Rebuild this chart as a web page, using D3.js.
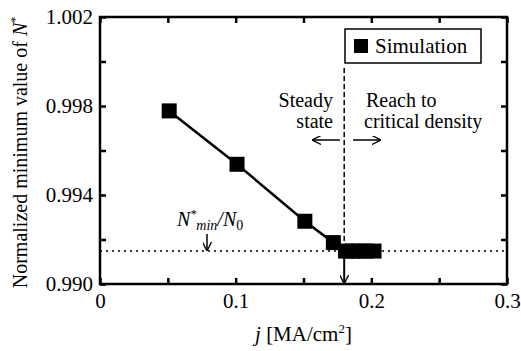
<!DOCTYPE html>
<head>
    <script src="https://d3js.org/d3.v7.min.js"></script>
</head>

<body style="margin:0;background:#fff">
<script>
    // values
    let jValues = [0.051, 0.101, 0.151, 0.172, 0.181, 0.186, 0.191, 0.196, 0.202];
    let nMin = [0.99778, 0.99538, 0.99282, 0.99186, 0.99148, 0.99148, 0.99148, 0.99148, 0.99148];
    let criticalN = 0.99148;   // N*min / N0
    let criticalJ = 0.18;
    let xTicks = [0, 0.1, 0.2, 0.3];
    let yTicks = [0.990, 0.994, 0.998, 1.002];

    let width = 521, height = 351;
    let margin = { left: 100, right: 14, top: 17, bottom: 67 };
    let serifFont = "Liberation Serif";

    let svg = d3.select("body")
        .append("svg")
        .attr("width", width)
        .attr("height", height)
        .attr("font-family", serifFont);

    let x = d3.scaleLinear().domain([0, 0.3]).range([margin.left, width - margin.right]);
    let y = d3.scaleLinear().domain([0.990, 1.002]).range([height - margin.bottom, margin.top]);

    svg.append("defs").append("marker")
        .attr("id", "head")
        .attr("viewBox", "0 0 10 10")
        .attr("refX", 9).attr("refY", 5)
        .attr("markerWidth", 9).attr("markerHeight", 9)
        .attr("markerUnits", "userSpaceOnUse")
        .attr("orient", "auto")
        .append("path")
        .attr("d", "M0,0 L10,5 L0,10")
        .attr("fill", "none")
        .attr("stroke", "#000")
        .attr("stroke-width", 1.5);

    // inward ticks on all four sides
    let minorX = d3.range(0, 0.3001, 0.05);
    let minorY = d3.range(0.990, 1.0021, 0.002);

    function bare(g) {
        g.attr("font-family", serifFont).attr("font-size", null);
        g.select(".domain").remove();
    }

    svg.append("g")
        .attr("transform", `translate(0,${y(0.990)})`)
        .call(d3.axisBottom(x).tickValues(minorX).tickSize(-6).tickFormat(""))
        .call(bare);
    svg.append("g")
        .attr("transform", `translate(0,${y(1.002)})`)
        .call(d3.axisTop(x).tickValues(minorX).tickSize(-6).tickFormat(""))
        .call(bare);
    svg.append("g")
        .attr("transform", `translate(${x(0)},0)`)
        .call(d3.axisLeft(y).tickValues(minorY).tickSize(-6).tickFormat(""))
        .call(bare);
    svg.append("g")
        .attr("transform", `translate(${x(0.3)},0)`)
        .call(d3.axisRight(y).tickValues(minorY).tickSize(-6).tickFormat(""))
        .call(bare);
    svg.selectAll(".tick line").attr("stroke", "#000").attr("stroke-width", 2.5);

    // tick labels
    svg.append("g")
        .attr("transform", `translate(0,${y(0.990)})`)
        .call(d3.axisBottom(x).tickValues(xTicks).tickSize(0).tickPadding(9).tickFormat(d => d === 0 ? "0" : d3.format(".1f")(d)))
        .call(bare)
        .selectAll("text").attr("font-size", 21);
    svg.append("g")
        .attr("transform", `translate(${x(0)},0)`)
        .call(d3.axisLeft(y).tickValues(yTicks).tickSize(0).tickPadding(7).tickFormat(d3.format(".3f")))
        .call(bare)
        .selectAll("text").attr("font-size", 21);

    svg.append("rect")
        .attr("x", x(0)).attr("y", y(1.002))
        .attr("width", x(0.3) - x(0)).attr("height", y(0.990) - y(1.002))
        .attr("fill", "none").attr("stroke", "#000").attr("stroke-width", 2.5);

    // dotted level and dashed boundary
    svg.append("line")
        .attr("x1", x(0)).attr("x2", x(0.3))
        .attr("y1", y(criticalN)).attr("y2", y(criticalN))
        .attr("stroke", "#000").attr("stroke-width", 1.5)
        .attr("stroke-dasharray", "2,4");
    svg.append("line")
        .attr("x1", x(criticalJ)).attr("x2", x(criticalJ))
        .attr("y1", 68).attr("y2", y(criticalN))
        .attr("stroke", "#000").attr("stroke-width", 1.5)
        .attr("stroke-dasharray", "5,3");

    // data
    let line = d3.line().x((d, i) => x(jValues[i])).y(d => y(d));
    svg.append("path")
        .datum(nMin)
        .attr("d", line)
        .attr("fill", "none")
        .attr("stroke", "#000")
        .attr("stroke-width", 2.5);
    svg.selectAll(".pt")
        .data(nMin)
        .enter()
        .append("rect")
        .attr("class", "pt")
        .attr("x", (d, i) => x(jValues[i]) - 7.5)
        .attr("y", d => y(d) - 7.5)
        .attr("width", 15).attr("height", 15)
        .attr("fill", "#000");

    // arrow down to the axis
    svg.append("line")
        .attr("x1", x(criticalJ)).attr("x2", x(criticalJ))
        .attr("y1", y(criticalN)).attr("y2", y(0.990) - 1)
        .attr("stroke", "#000").attr("stroke-width", 2)
        .attr("marker-end", "url(#head)");

    // legend
    svg.append("rect")
        .attr("x", 345).attr("y", 29).attr("width", 136).attr("height", 34)
        .attr("fill", "#fff").attr("stroke", "#000").attr("stroke-width", 1.5);
    svg.append("rect")
        .attr("x", 354).attr("y", 39).attr("width", 14).attr("height", 14)
        .attr("fill", "#000");
    svg.append("text")
        .attr("x", 375).attr("y", 53)
        .attr("font-size", 21)
        .text("Simulation");

    // annotations
    svg.append("text").attr("x", 333).attr("y", 107).attr("text-anchor", "end")
        .attr("font-size", 20).text("Steady");
    svg.append("text").attr("x", 333).attr("y", 128).attr("text-anchor", "end")
        .attr("font-size", 20).text("state");
    svg.append("text").attr("x", 366).attr("y", 107)
        .attr("font-size", 20).text("Reach to");
    svg.append("text").attr("x", 364).attr("y", 128)
        .attr("font-size", 20).text("critical density");

    svg.append("line")
        .attr("x1", 340).attr("x2", 313).attr("y1", 140).attr("y2", 140)
        .attr("stroke", "#000").attr("stroke-width", 1.5)
        .attr("marker-end", "url(#head)");
    svg.append("line")
        .attr("x1", 353).attr("x2", 380).attr("y1", 140).attr("y2", 140)
        .attr("stroke", "#000").attr("stroke-width", 1.5)
        .attr("marker-end", "url(#head)");

    let nt = svg.append("text").attr("x", 177).attr("y", 226)
        .attr("font-size", 20).attr("font-style", "italic");
    nt.append("tspan").text("N");
    nt.append("tspan").attr("dy", -8).attr("font-size", 12).text("*");
    nt.append("tspan").attr("dy", 12).attr("font-size", 14).text("min");
    nt.append("tspan").attr("dy", -4).text("/N");
    nt.append("tspan").attr("dy", 4).attr("font-size", 14).attr("font-style", "normal").text("0");
    svg.append("line")
        .attr("x1", 207).attr("x2", 207).attr("y1", 234).attr("y2", y(criticalN) - 1)
        .attr("stroke", "#000").attr("stroke-width", 1.5)
        .attr("marker-end", "url(#head)");

    // axis titles
    let xl = svg.append("text")
        .attr("x", x(0.15)).attr("y", 341).attr("text-anchor", "middle")
        .attr("font-size", 21);
    xl.append("tspan").attr("font-style", "italic").text("j");
    xl.append("tspan").text(" [MA/cm");
    xl.append("tspan").attr("dy", -8).attr("font-size", 13).text("2");
    xl.append("tspan").attr("dy", 8).text("]");

    let yl = svg.append("text")
        .attr("transform", `translate(27,${(y(0.990) + y(1.002)) / 2 + 2}) rotate(-90)`)
        .attr("text-anchor", "middle")
        .attr("font-size", 20);
    yl.append("tspan").text("Normalized minimum value of ");
    yl.append("tspan").attr("font-style", "italic").text("N");
    yl.append("tspan").attr("dy", -8).attr("font-size", 12).text("*");

    svg.selectAll("text")
        .attr("font-family", serifFont)
        .attr("fill", "#000");
</script>
</body>
